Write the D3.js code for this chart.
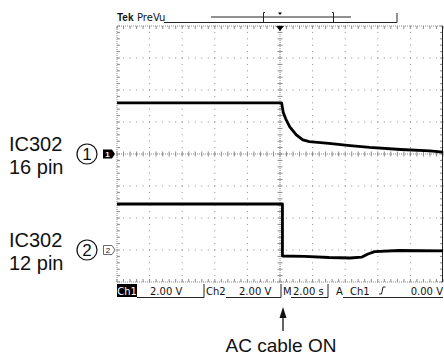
<!DOCTYPE html>
<html lang="en">
<head>
<meta charset="UTF-8" />
<title>IC302 scope capture</title>
<script src="https://d3js.org/d3.v7.min.js"></script>
<style>
  body { margin: 0; background: #fff; }
  svg { display: block; }
  .lbl { font-family: "Liberation Sans", Arial, sans-serif; fill: #111; }
  .stat { font-family: "DejaVu Sans", sans-serif; font-size: 10px; fill: #111; }
  .grid { stroke: #8a8a8a; stroke-width: 1; fill: none; }
  .trace { fill: none; stroke: #000; stroke-width: 2.8; stroke-linejoin: round; }
</style>
</head>
<body>
<svg id="chart" width="444" height="364"></svg>
<script>
// time in seconds (M 2.00 s/div, trigger at centre), volts (2.00 V/div)
const ch1Time = [-10, 0.1, 0.2, 0.35, 0.6, 1.0, 1.4, 1.8, 3.0, 4.3, 5.5, 7.4, 9.2, 10];
const ch1Volt = [3.19, 3.19, 2.6, 2.2, 1.7, 1.2, 0.88, 0.78, 0.66, 0.53, 0.41, 0.28, 0.19, 0.12];
const ch2Time = [-10, 0.15, 0.15, 1.5, 3.0, 4.3, 5.0, 5.4, 5.8, 7.3, 10];
const ch2Volt = [2.875, 2.875, -0.375, -0.4, -0.47, -0.5, -0.45, -0.25, -0.1, -0.03, -0.06];
const ch1Offset = 0;     // divisions from centre
const ch2Offset = -3;
const statusItems = [
  { text: "2.00 V", x: 150 }, { text: "Ch2", x: 206 }, { text: "2.00 V", x: 239 },
  { text: "M", x: 283 }, { text: "2.00 s", x: 293 }, { text: "A", x: 336 }, { text: "Ch1", x: 350 }
];
const labels1 = ["IC302", "16 pin"];
const labels2 = ["IC302", "12 pin"];
const footText = "AC cable ON";

const svg = d3.select("#chart");
const L = 117, R = 443, T = 26, B = 282;
const nx = 10, ny = 8;
const dx = (R - L) / nx, dy = (B - T) / ny;
const cx = L + dx * 5, cy = T + dy * 4;

const x = d3.scaleLinear().domain([-10, 10]).range([L, R]);
const yFor = off => d3.scaleLinear().domain([-8 - off * 2, 8 - off * 2]).range([B, T]);
const y1 = yFor(ch1Offset), y2 = yFor(ch2Offset);

const g = svg.append("g");

// dotted grid
const dots = [];
for (let i = 1; i < nx; i++) for (let k = 0; k <= ny * 5; k++) if (i !== 5) dots.push([L + i * dx, T + k * dy / 5]);
for (let j = 1; j < ny; j++) for (let k = 0; k <= nx * 5; k++) if (j !== 4) dots.push([L + k * dx / 5, T + j * dy]);
g.append("g").selectAll("rect").data(dots).join("rect")
  .attr("x", d => d[0] - 0.5).attr("y", d => d[1] - 0.5)
  .attr("width", 1).attr("height", 1).attr("fill", "#8a8a8a");

// frame and centre axes with minor ticks
const tk = [];
for (let k = 0; k <= nx * 5; k++) {
  const xx = L + k * dx / 5;
  tk.push([xx, T, xx, T + 3], [xx, B, xx, B - 3], [xx, cy - 2.5, xx, cy + 2.5]);
}
for (let k = 0; k <= ny * 5; k++) {
  const yy = T + k * dy / 5;
  tk.push([L, yy, L + 3, yy], [R, yy, R - 3, yy], [cx - 2.5, yy, cx + 2.5, yy]);
}
g.append("g").selectAll("line").data(tk).join("line").attr("class", "grid")
  .attr("x1", d => d[0]).attr("y1", d => d[1]).attr("x2", d => d[2]).attr("y2", d => d[3]);
g.append("line").attr("class", "grid").attr("stroke-dasharray", "1,1")
  .attr("x1", L).attr("x2", R).attr("y1", cy).attr("y2", cy);
g.append("line").attr("class", "grid").attr("stroke-dasharray", "1,1")
  .attr("x1", cx).attr("x2", cx).attr("y1", T).attr("y2", B);
g.append("path").attr("class", "grid").attr("stroke-dasharray", "1,1")
  .attr("d", `M${L},${B}V${T}H${R}M${L},${B}H${R}`);
g.append("line").attr("x1", R - 0.5).attr("x2", R - 0.5).attr("y1", T).attr("y2", B)
  .attr("stroke", "#222").attr("stroke-width", 1);

// traces
const line1 = d3.line().x(d => x(d[0])).y(d => y1(d[1]));
const line2 = d3.line().x(d => x(d[0])).y(d => y2(d[1]));
g.append("path").attr("class", "trace").attr("d", line1(d3.zip(ch1Time, ch1Volt)));
g.append("path").attr("class", "trace").attr("d", line2(d3.zip(ch2Time, ch2Volt)));

// trigger position marker
g.append("path").attr("d", `M${cx - 4},${T}L${cx + 4},${T}L${cx},${T + 5}Z`).attr("fill", "#000");

// channel ground markers
const gy1 = y1(0), gy2 = y2(0);
g.append("path").attr("d", `M103,${gy1 - 4.5}H112L115,${gy1}L112,${gy1 + 4.5}H103Z`).attr("fill", "#000");
g.append("text").attr("x", 107.5).attr("y", gy1 + 3).attr("text-anchor", "middle")
  .attr("class", "lbl").attr("font-size", 8).attr("font-weight", "bold").style("fill", "#fff").text("1");
g.append("path").attr("d", `M103.5,${gy2 - 4.5}H112L115,${gy2}L112,${gy2 + 4.5}H103.5Z`)
  .attr("fill", "#fff").attr("stroke", "#444").attr("stroke-width", 0.8);
g.append("text").attr("x", 108).attr("y", gy2 + 3).attr("text-anchor", "middle")
  .attr("class", "lbl").attr("font-size", 8).text("2");

// header
const hdr = svg.append("g");
hdr.append("text").attr("x", 117).attr("y", 21).attr("class", "lbl")
  .attr("font-size", 10).attr("font-weight", "bold").text("Tek");
hdr.append("text").attr("x", 137).attr("y", 21).attr("class", "stat")
  .attr("font-size", 8.5).text("PreVu");
hdr.append("path").attr("fill", "none").attr("stroke", "#222").attr("stroke-width", 1)
  .attr("d", "M164,22.5H397V13M211,17H351M265,12.5h-1.5v10h1.5M332,12.5h1.5v10h-1.5");
hdr.append("path").attr("d", `M${cx - 2},12.5H${cx + 2}L${cx},15Z`).attr("fill", "#000");

// status bar
const st = svg.append("g");
st.append("rect").attr("x", 117).attr("y", 284).attr("width", 20).attr("height", 13).attr("fill", "#000");
st.append("text").attr("x", 127).attr("y", 294.5).attr("text-anchor", "middle").attr("class", "stat")
  .style("fill", "#fff").attr("font-size", 9.5).text("Ch1");
st.selectAll("text.item").data(statusItems).join("text").attr("class", "stat item")
  .attr("x", d => d.x).attr("y", 295).text(d => d.text);
st.append("text").attr("x", 443).attr("y", 295).attr("text-anchor", "end").attr("class", "stat").text("0.00 V");
st.append("path").attr("fill", "none").attr("stroke", "#222").attr("stroke-width", 1)
  .attr("d", "M137,297.5H204V284M226,297.5H281V284M291,297.5H328V284M343,297.5H443M379,294h2.5l1.5,-7h2.5");

// left annotations
const ann = svg.append("g");
[[labels1, gy1], [labels2, gy2]].forEach(([txt, gy], i) => {
  ann.append("text").attr("class", "lbl").attr("x", 9).attr("y", gy - 3).attr("font-size", 20).text(txt[0]);
  ann.append("text").attr("class", "lbl").attr("x", 9).attr("y", gy + 20).attr("font-size", 20).text(txt[1]);
  ann.append("circle").attr("cx", 87).attr("cy", gy).attr("r", 10)
    .attr("fill", "none").attr("stroke", "#111").attr("stroke-width", 1.2);
  ann.append("text").attr("class", "lbl").attr("x", 87).attr("y", gy + 6).attr("text-anchor", "middle")
    .attr("font-size", 17).text(String(i + 1));
});

// arrow and caption
ann.append("line").attr("x1", cx + 3).attr("x2", cx + 3).attr("y1", 315).attr("y2", 331)
  .attr("stroke", "#111").attr("stroke-width", 1.3);
ann.append("path").attr("d", `M${cx + 3},307L${cx + 6.5},318L${cx - 0.5},318Z`).attr("fill", "#111");
ann.append("text").attr("class", "lbl").attr("x", cx + 1).attr("y", 352).attr("text-anchor", "middle")
  .attr("font-size", 19).text(footText);
</script>
</body>
</html>
